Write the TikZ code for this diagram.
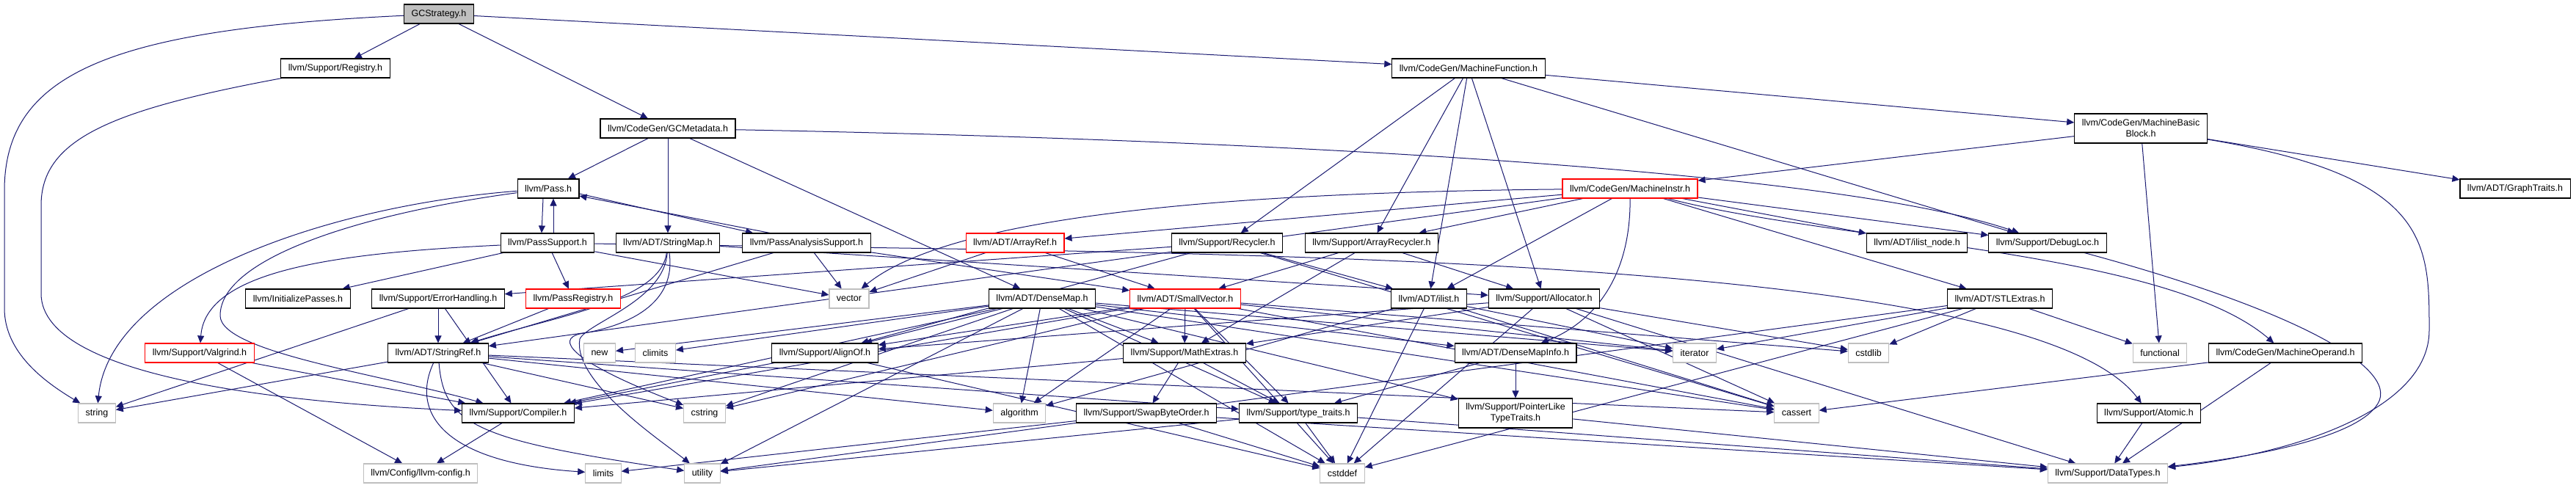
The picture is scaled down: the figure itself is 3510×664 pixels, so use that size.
\documentclass[tikz,border=0pt]{standalone}
\usepackage{fontspec}
\setmainfont{Liberation Sans}
\usepackage{xcolor}
\definecolor{edgeblue}{RGB}{25,25,112}
\definecolor{sysgray}{RGB}{191,191,191}
\definecolor{cutred}{RGB}{255,0,0}
\usepackage{tikz}
\usetikzlibrary{arrows.meta,backgrounds}

\begin{document}
\begin{tikzpicture}[x=1pt, y=-1pt,
    hdr/.style={rectangle, draw=black, fill=white, line width=1.1pt,
                minimum height=26pt, inner xsep=10pt, inner ysep=2pt,
                align=center, font=\fontsize{12.5}{15}\selectfont},
    syshdr/.style={hdr, draw=sysgray},
    cuthdr/.style={hdr, draw=cutred},
    roothdr/.style={hdr, fill=sysgray},
    dep/.style={-{Triangle[length=10pt,width=9pt]}, edgeblue, line width=1pt},
  ]
    \useasboundingbox (0,0) rectangle (3510,664);

    % row 1 - 3
    \node[roothdr] (gcs)  at (598,19)   {GCStrategy.h};
    \node[hdr]     (reg)  at (457,93)   {llvm/Support/Registry.h};
    \node[hdr]     (mf)   at (2001,93)  {llvm/CodeGen/MachineFunction.h};
    \node[hdr]     (gcmd) at (910,175)  {llvm/CodeGen/GCMetadata.h};
    \node[hdr, minimum height=40pt] (mbb) at (2917,175) {llvm/CodeGen/MachineBasic\\Block.h};

    % row 4 - 5
    \node[hdr]    (pass)   at (747,257)  {llvm/Pass.h};
    \node[cuthdr] (mi)     at (2221,257) {llvm/CodeGen/MachineInstr.h};
    \node[hdr]    (gt)     at (3427,257) {llvm/ADT/GraphTraits.h};
    \node[hdr]    (ps)     at (746,331)  {llvm/PassSupport.h};
    \node[hdr]    (smap)   at (910,331)  {llvm/ADT/StringMap.h};
    \node[hdr]    (pas)    at (1099,331) {llvm/PassAnalysisSupport.h};
    \node[cuthdr] (aref)   at (1383,331) {llvm/ADT/ArrayRef.h};
    \node[hdr]    (recy)   at (1672,331) {llvm/Support/Recycler.h};
    \node[hdr]    (arecy)  at (1869,331) {llvm/Support/ArrayRecycler.h};
    \node[hdr]    (ilnode) at (2612,331) {llvm/ADT/ilist\_node.h};
    \node[hdr]    (dloc)   at (2790,331) {llvm/Support/DebugLoc.h};

    % row 6
    \node[hdr]    (initp) at (406,407)  {llvm/InitializePasses.h};
    \node[hdr]    (errh)  at (597,407)  {llvm/Support/ErrorHandling.h};
    \node[cuthdr] (preg)  at (781,407)  {llvm/PassRegistry.h};
    \node[syshdr] (vec)   at (1157,407) {vector};
    \node[hdr]    (dmap)  at (1420,407) {llvm/ADT/DenseMap.h};
    \node[cuthdr] (svec)  at (1615,407) {llvm/ADT/SmallVector.h};
    \node[hdr]    (ilist) at (1947,407) {llvm/ADT/ilist.h};
    \node[hdr]    (alloc) at (2104,407) {llvm/Support/Allocator.h};
    \node[hdr]    (stl)   at (2725,407) {llvm/ADT/STLExtras.h};

    % row 7
    \node[cuthdr] (valg)    at (272,481)  {llvm/Support/Valgrind.h};
    \node[hdr]    (sref)    at (597,481)  {llvm/ADT/StringRef.h};
    \node[syshdr] (new)     at (817,481)  {new};
    \node[syshdr] (climits) at (893,481)  {climits};
    \node[hdr]    (align)   at (1124,481) {llvm/Support/AlignOf.h};
    \node[hdr]    (math)    at (1614,481) {llvm/Support/MathExtras.h};
    \node[hdr]    (dmi)     at (2065,481) {llvm/ADT/DenseMapInfo.h};
    \node[syshdr] (iter)    at (2309,481) {iterator};
    \node[syshdr] (cstdlib) at (2546,481) {cstdlib};
    \node[syshdr] (func)    at (2943,481) {functional};
    \node[hdr]    (mop)     at (3114,481) {llvm/CodeGen/MachineOperand.h};

    % row 8 - 9
    \node[syshdr] (str)     at (132,563)  {string};
    \node[hdr]    (comp)    at (706,563)  {llvm/Support/Compiler.h};
    \node[syshdr] (cstring) at (960,563)  {cstring};
    \node[syshdr] (algo)    at (1389,563) {algorithm};
    \node[hdr]    (swap)    at (1562,563) {llvm/Support/SwapByteOrder.h};
    \node[hdr]    (tt)      at (1769,563) {llvm/Support/type\_traits.h};
    \node[hdr, minimum height=40pt] (plt) at (2065,563) {llvm/Support/PointerLike\\TypeTraits.h};
    \node[syshdr] (cassert) at (2448,563) {cassert};
    \node[hdr]    (atomic)  at (2928,563) {llvm/Support/Atomic.h};
    \node[syshdr] (cfg)     at (573,645)  {llvm/Config/llvm-config.h};
    \node[syshdr] (limits)  at (822,645)  {limits};
    \node[syshdr] (util)    at (957,645)  {utility};
    \node[syshdr] (cstddef) at (1829,645) {cstddef};
    \node[syshdr] (dtypes)  at (2872,645) {llvm/Support/DataTypes.h};

    \begin{scope}[on background layer]
    % GCStrategy.h
    \draw[dep] (gcs)--(reg);
    \draw[dep] (gcs)--(gcmd);
    \draw[dep] (gcs)--(mf);
    \draw[dep] (gcs) .. controls (150,40) and (6,100) .. (6,260) -- (6,420) .. controls (6,480) and (60,520) .. (str);
    \draw[dep] (reg) .. controls (150,150) and (56,190) .. (56,280) -- (56,400) .. controls (56,520) and (420,550) .. (comp);

    % GCMetadata.h
    \draw[dep] (gcmd)--(pass);
    \draw[dep] (gcmd)--(smap);
    \draw[dep] (gcmd)--(dmap);
    \draw[dep] (gcmd) .. controls (1700,190) and (2500,230) .. (dloc);

    % MachineFunction.h, MachineBasicBlock.h
    \draw[dep] (mf)--(mbb);
    \draw[dep] (mf)--(recy);
    \draw[dep] (mf)--(arecy);
    \draw[dep] (mf)--(ilist);
    \draw[dep] (mf)--(alloc);
    \draw[dep] (mf)--(dloc);
    \draw[dep] (mbb)--(mi);
    \draw[dep] (mbb)--(gt);
    \draw[dep] (mbb)--(func);
    \draw[dep] (mbb) .. controls (3310,240) and (3310,330) .. (3310,450) .. controls (3310,560) and (3120,620) .. (dtypes);

    % Pass.h and friends
    \draw[dep] ([xshift=-7pt]pass.south)--([xshift=-8pt]ps.north);
    \draw[dep] ([xshift=8pt]ps.north)--([xshift=7pt]pass.south);
    \draw[dep] ([yshift=-7pt]pass.east)--([xshift=-73pt]pas.north);
    \draw[dep] ([xshift=-50pt]pas.north)--([yshift=-10pt]pass.east);
    \draw[dep] (pass) .. controls (450,280) and (150,380) .. (str);
    \draw[dep] (pass) .. controls (500,290) and (300,350) .. (300,430) .. controls (300,480) and (520,510) .. (comp);
    \draw[dep] (ps)--(initp);
    \draw[dep] (ps)--(preg);
    \draw[dep] (ps)--(vec);
    \draw[dep] (ps) .. controls (450,345) and (280,370) .. (valg);
    \draw[dep] (ps) .. controls (1600,345) and (2760,340) .. (atomic);
    \draw[dep] (pas)--(svec);
    \draw[dep] (pas)--(sref);
    \draw[dep] (pas)--(vec);
    \draw[dep] (preg)--(sref);

    % MachineInstr.h
    \draw[dep] (mi)--(aref);
    \draw[dep] (mi)--(sref);
    \draw[dep] (mi)--(arecy);
    \draw[dep] (mi)--(ilist);
    \draw[dep] (mi)--(stl);
    \draw[dep] (mi)--(ilnode);
    \draw[dep] (mi)--(dloc);
    \draw[dep] (mi) .. controls (1700,262) and (1300,290) .. (vec);
    \draw[dep] (mi) .. controls (2222,380) and (2170,440) .. (dmi);
    \draw[dep] (mi) .. controls (2500,330) and (2950,340) .. (mop);

    % StringMap.h, ArrayRef.h, Recycler.h, ArrayRecycler.h
    \draw[dep] (smap) .. controls (900,410) and (760,430) .. (sref);
    \draw[dep] (smap)--(alloc);
    \draw[dep] (smap) .. controls (920,400) and (880,440) .. (790,455) .. controls (760,462) and (770,490) .. (cstring);
    \draw[dep] (smap) .. controls (905,410) and (800,440) .. (790,462) .. controls (780,520) and (900,600) .. (util);
    \draw[dep] (aref)--(svec);
    \draw[dep] (aref)--(vec);
    \draw[dep] (recy)--(ilist);
    \draw[dep] (recy)--(align);
    \draw[dep] (recy)--(errh);
    \draw[dep] (recy)--(cassert);
    \draw[dep] (arecy)--(svec);
    \draw[dep] (arecy)--(alloc);
    \draw[dep] (arecy)--(math);
    \draw[dep] (dloc) .. controls (3120,420) and (3270,500) .. (3240,550) .. controls (3210,600) and (3050,625) .. (dtypes);

    % ErrorHandling.h, Valgrind.h, StringRef.h
    \draw[dep] (errh)--(sref);
    \draw[dep] (errh)--(comp);
    \draw[dep] (errh)--(str);
    \draw[dep] (valg)--(cfg);
    \draw[dep] (valg)--(comp);
    \draw[dep] (sref)--(str);
    \draw[dep] (sref)--(tt);
    \draw[dep] (sref)--(algo);
    \draw[dep] (sref)--(cassert);
    \draw[dep] (sref)--(cstring);
    \draw[dep] (sref) .. controls (560,560) and (600,630) .. (limits);
    \draw[dep] (sref) .. controls (605,580) and (650,600) .. (util);
    \draw[dep] (comp)--(cfg);

    % DenseMap.h
    \draw[dep] (dmap)--(dmi);
    \draw[dep] (dmap)--(align);
    \draw[dep] (dmap)--(comp);
    \draw[dep] (dmap)--(math);
    \draw[dep] (dmap)--(plt);
    \draw[dep] (dmap)--(tt);
    \draw[dep] (dmap)--(algo);
    \draw[dep] (dmap)--(cassert);
    \draw[dep] (dmap)--(climits);
    \draw[dep] (dmap)--(cstddef);
    \draw[dep] (dmap)--(cstring);
    \draw[dep] (dmap)--(iter);
    \draw[dep] (dmap)--(new);
    \draw[dep] (dmap)--(util);

    % SmallVector.h
    \draw[dep] (svec)--(align);
    \draw[dep] (svec)--(comp);
    \draw[dep] (svec)--(math);
    \draw[dep] (svec)--(tt);
    \draw[dep] (svec)--(algo);
    \draw[dep] (svec)--(cassert);
    \draw[dep] (svec)--(cstddef);
    \draw[dep] (svec)--(cstdlib);
    \draw[dep] (svec)--(cstring);
    \draw[dep] (svec)--(iter);

    % ilist.h, Allocator.h, STLExtras.h
    \draw[dep] (ilist)--(algo);
    \draw[dep] (ilist)--(cassert);
    \draw[dep] (ilist)--(cstddef);
    \draw[dep] (ilist)--(iter);
    \draw[dep] (alloc)--(align);
    \draw[dep] (alloc)--(math);
    \draw[dep] (alloc)--(dtypes);
    \draw[dep] (alloc)--(cassert);
    \draw[dep] (alloc)--(cstddef);
    \draw[dep] (alloc)--(cstdlib);
    \draw[dep] (stl)--(iter);
    \draw[dep] (stl)--(cstdlib);
    \draw[dep] (stl)--(func);
    \draw[dep] (stl)--(cstddef);
    \draw[dep] (stl)--(util);

    % lower support headers
    \draw[dep] (align)--(comp);
    \draw[dep] (align)--(cstddef);
    \draw[dep] (math)--(comp);
    \draw[dep] (math)--(swap);
    \draw[dep] (math)--(tt);
    \draw[dep] (dmi)--(plt);
    \draw[dep] (dmi)--(tt);
    \draw[dep] (mop)--(dtypes);
    \draw[dep] (mop)--(cassert);
    \draw[dep] (swap)--(dtypes);
    \draw[dep] (swap)--(cstddef);
    \draw[dep] (swap)--(limits);
    \draw[dep] (tt)--(dtypes);
    \draw[dep] (tt)--(cstddef);
    \draw[dep] (tt)--(util);
    \draw[dep] (plt)--(dtypes);
    \draw[dep] (atomic)--(dtypes);
    \end{scope}
  \end{tikzpicture}
\end{document}
